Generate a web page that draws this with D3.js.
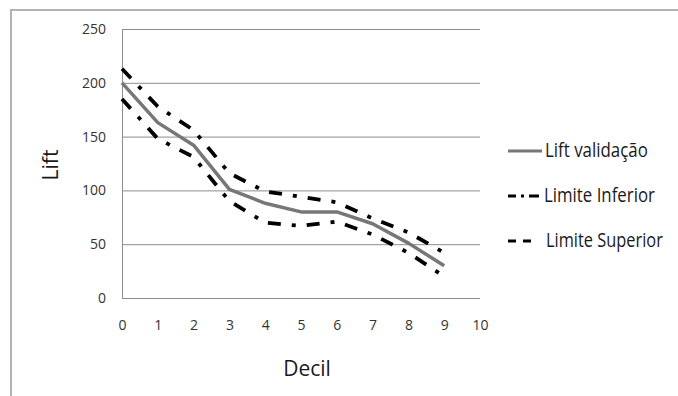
<!DOCTYPE html>
<html>
<head>
<meta charset="utf-8">
<script src="https://cdn.jsdelivr.net/npm/d3@7"></script>
<style>
  html, body { margin: 0; padding: 0; background: #fff; }
  svg { display: block; }
</style>
</head>
<body>
<svg id="chart" width="678" height="396"></svg>
<script>
// ---- data ----
const deciles = [0, 1, 2, 3, 4, 5, 6, 7, 8, 9];
const liftValidacao  = [200, 163, 142, 101, 88, 80, 80, 69, 51, 30];
const limiteInferior = [185, 148, 131, 90, 70, 67, 71, 59, 42, 20];
const limiteSuperior = [213, 178, 156, 116, 99, 94, 89, 74, 61, 42];
const xTicks = [0, 1, 2, 3, 4, 5, 6, 7, 8, 9, 10];
const yTicks = [0, 50, 100, 150, 200, 250];
const seriesNames = ["Lift validação", "Limite Inferior", "Limite Superior"];

const svg = d3.select("#chart");

// outer chart border (only top/left visible in reference)
svg.append("path")
  .attr("d", "M11,400 L11,10 L678,10")
  .attr("fill", "none")
  .attr("stroke", "#b3b3b3")
  .attr("stroke-width", 2);

const x = d3.scaleLinear().domain([0, 10]).range([122, 480]);
const y = d3.scaleLinear().domain([0, 250]).range([298, 29]);

// gridlines
svg.append("g")
  .selectAll("line")
  .data(yTicks)
  .join("line")
  .attr("x1", x(0)).attr("x2", x(10))
  .attr("y1", d => y(d) + 0.5).attr("y2", d => y(d) + 0.5)
  .attr("stroke", "#8c8c8c")
  .attr("stroke-width", 1);

// y axis line
svg.append("line")
  .attr("x1", x(0) + 0.5).attr("x2", x(0) + 0.5)
  .attr("y1", y(250)).attr("y2", y(0) + 1)
  .attr("stroke", "#8c8c8c")
  .attr("stroke-width", 1);

// y tick labels
const yAxis = d3.axisLeft(y).tickValues(yTicks).tickSize(0).tickPadding(16);
const gy = svg.append("g").attr("transform", `translate(${x(0)},0)`).call(yAxis);
gy.select(".domain").remove();
gy.selectAll("text")
  .attr("font-family", "'Open Sans', sans-serif")
  .attr("font-size", 14)
  .attr("fill", "#333");

// x tick labels
const xAxis = d3.axisBottom(x).tickValues(xTicks).tickFormat(d3.format("d")).tickSize(0).tickPadding(22);
const gx = svg.append("g").attr("transform", `translate(0,${y(0)})`).call(xAxis);
gx.select(".domain").remove();
gx.selectAll("text")
  .attr("font-family", "'Open Sans', sans-serif")
  .attr("font-size", 14)
  .attr("fill", "#333");

// axis titles
svg.append("text")
  .attr("transform", "translate(58,165) rotate(-90)")
  .attr("text-anchor", "middle")
  .attr("font-family", "'Open Sans', sans-serif")
  .attr("font-size", 21)
  .attr("fill", "#1a1a1a")
  .text("Lift");

svg.append("text")
  .attr("x", 307).attr("y", 376)
  .attr("text-anchor", "middle")
  .attr("font-family", "'Open Sans', sans-serif")
  .attr("font-size", 21)
  .attr("fill", "#1a1a1a")
  .text("Decil");

// series lines
const line = d3.line().x((d, i) => x(deciles[i])).y(d => y(d));
const dashDot = "13,11,4,11";

svg.append("path")
  .datum(limiteInferior)
  .attr("d", line)
  .attr("fill", "none")
  .attr("stroke", "#000")
  .attr("stroke-width", 3.8)
  .attr("stroke-dasharray", dashDot);

svg.append("path")
  .datum(limiteSuperior)
  .attr("d", line)
  .attr("fill", "none")
  .attr("stroke", "#000")
  .attr("stroke-width", 3.8)
  .attr("stroke-dasharray", dashDot);

svg.append("path")
  .datum(liftValidacao)
  .attr("d", line)
  .attr("fill", "none")
  .attr("stroke", "#777")
  .attr("stroke-width", 3.5)
  .attr("stroke-linejoin", "round");

// legend
const legendRows = [
  { name: seriesNames[0], y: 151, stroke: "#777", dash: null, tl: 103, tx: 545 },
  { name: seriesNames[1], y: 196, stroke: "#000", dash: "8,5,3,5,10", tl: 111, tx: 544 },
  { name: seriesNames[2], y: 241, stroke: "#000", dash: "8,7,8,20", tl: 117, tx: 546 }
];
const lg = svg.append("g");
lg.selectAll("line")
  .data(legendRows)
  .join("line")
  .attr("x1", 508).attr("x2", 542)
  .attr("y1", d => d.y).attr("y2", d => d.y)
  .attr("stroke", d => d.stroke)
  .attr("stroke-width", 3)
  .attr("stroke-dasharray", d => d.dash);
lg.selectAll("text")
  .data(legendRows)
  .join("text")
  .attr("x", 0)
  .attr("y", 0)
  .attr("font-family", "'Open Sans', sans-serif")
  .attr("font-size", 20)
  .attr("fill", "#1a1a1a")
  .text(d => d.name)
  .each(function(d) {
    const w = this.getComputedTextLength();
    const s = d.tl / w;
    d3.select(this).attr("transform", `translate(${d.tx},${d.y + 6}) scale(${s},1)`);
  });
</script>
</body>
</html>
